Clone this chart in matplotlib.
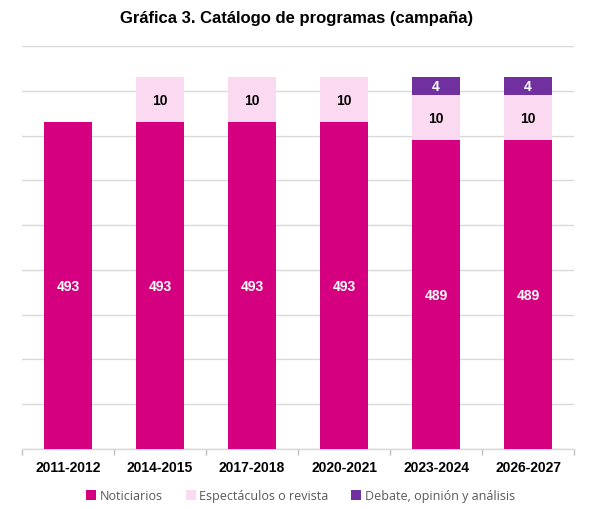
import matplotlib
matplotlib.use("Agg")
import matplotlib.pyplot as plt
import numpy as np
from matplotlib.patches import Patch

categories = ["2011-2012", "2014-2015", "2017-2018", "2020-2021", "2023-2024", "2026-2027"]
noticiarios = [493, 493, 493, 493, 489, 489]
espectaculos = [0, 10, 10, 10, 10, 10]
debate = [0, 0, 0, 0, 4, 4]
series_names = ["Noticiarios", "Espectáculos o revista", "Debate, opinión y análisis"]
colors = ["#D5007F", "#FBD9F0", "#7030A0"]
label_colors = ["white", "black", "white"]

Y_MIN, Y_MAX = 420, 510

fig = plt.figure(figsize=(5.94, 5.10), dpi=100)
ax = fig.add_axes([22/594, 1-450/510, 552/594, (450-47)/510])

x = np.arange(len(categories))
w = 0.52
bottom = np.zeros(len(categories))
for vals, col, lc in zip([noticiarios, espectaculos, debate], colors, label_colors):
    vals = np.array(vals, dtype=float)
    ax.bar(x, vals, w, bottom=bottom, color=col, zorder=3)
    for xi, v, b in zip(x, vals, bottom):
        if v > 0:
            lo = max(b, Y_MIN)
            ax.text(xi, (lo + b + v) / 2, f"{int(v)}", ha="center", va="center",
                    color=lc, fontsize=10, fontweight="bold",
                    family="Liberation Sans", zorder=5)
    bottom += vals

ax.set_ylim(Y_MIN, Y_MAX)
ax.set_xlim(-0.5, len(categories)-0.5)
ax.set_yticks(np.arange(Y_MIN, Y_MAX + 1, 10))
ax.yaxis.grid(True, color="#D9D9D9", linewidth=1, zorder=0)
ax.tick_params(axis="y", length=0, labelleft=False)
ax.set_xticks(x)
ax.set_xticklabels(categories, fontsize=10, fontweight="bold", family="Liberation Sans")
ax.tick_params(axis="x", length=0, pad=8)
ax.set_xticks(np.arange(-0.5, len(categories), 1), minor=True)
ax.set_xticklabels([], minor=True)
ax.tick_params(axis="x", which="minor", length=4, color="#BFBFBF", width=1)
for s in ["top", "right", "left"]:
    ax.spines[s].set_visible(False)
ax.spines["bottom"].set_color("#D9D9D9")
ax.spines["bottom"].set_linewidth(1)

fig.text(0.5, 1-18/510, "Gráfica 3. Catálogo de programas (campaña)", ha="center", va="center",
         fontsize=12, fontweight="bold", family="Liberation Sans")

handles = [Patch(facecolor=c, edgecolor="none") for c in colors]
fig.legend(handles, series_names, loc="center", bbox_to_anchor=(0.506, 1-497/510), ncol=3,
           frameon=False, prop={"family": "Open Sans", "size": 9},
           handlelength=0.8, handleheight=0.8, handletextpad=0.3, columnspacing=1.8,
           labelcolor="#595959")

fig.savefig("out.png", dpi=100)
